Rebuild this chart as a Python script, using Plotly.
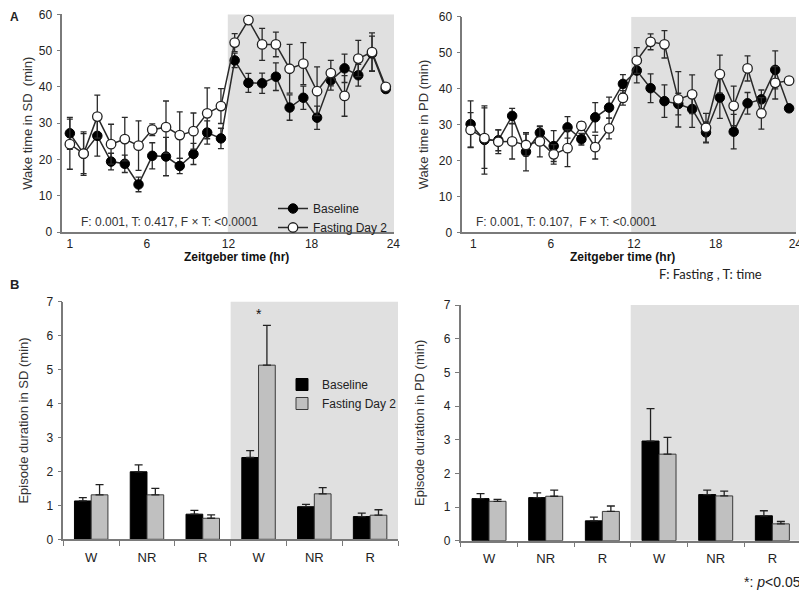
import plotly.graph_objects as go

FONT = "Liberation Sans, Arial, sans-serif"

# ---------------- data ----------------
zt = list(range(1, 25))
zt_ticks_sd = [1, 6.6, 12.55, 18.6, 24.55]
zt_ticks_pd = [1.2, 6.8, 12.8, 18.7, 24.45]
zt_ticktext = ["1", "6", "12", "18", "24"]

sd_base = [27.2, 21.6, 26.5, 19.4, 18.8, 13.1, 21.0, 20.8, 18.2, 21.5, 27.4, 25.8,
           47.3, 41.1, 41.0, 42.8, 34.3, 37.0, 31.5, 41.8, 45.1, 43.2, 49.2, 39.4]
sd_base_err = [4.4, 5.5, 5.6, 2.3, 2.4, 2.0, 3.6, 5.3, 2.1, 2.9, 3.2, 2.8,
               2.0, 2.6, 2.8, 3.8, 3.5, 3.2, 3.2, 2.7, 3.9, 3.0, 4.8, 0.5]
sd_fast = [24.2, 21.6, 31.8, 24.2, 25.6, 23.8, 28.2, 28.9, 26.7, 27.8, 32.7, 34.7,
           52.2, 58.4, 51.7, 51.7, 45.0, 46.4, 38.8, 43.8, 37.5, 47.8, 49.6, 40.0]
sd_fast_err = [6.9, 6.0, 5.9, 5.5, 6.0, 6.8, 1.6, 7.2, 6.4, 5.0, 7.0, 4.8,
               2.5, 0.5, 4.4, 3.4, 6.7, 5.8, 6.7, 3.5, 5.6, 5.0, 5.3, 0.5]

pd_base = [30.1, 25.7, 25.6, 32.4, 22.4, 27.7, 24.0, 29.2, 25.9, 32.0, 34.7, 41.3,
           45.0, 40.1, 36.5, 35.7, 34.3, 27.8, 37.5, 28.0, 35.9, 37.0, 45.2, 34.5]
pd_base_err = [6.5, 9.5, 2.9, 2.1, 5.3, 1.7, 4.3, 3.0, 1.6, 4.1, 2.9, 2.6,
               3.4, 4.0, 4.5, 3.0, 5.1, 2.9, 5.8, 4.8, 3.0, 2.6, 5.3, 0.5]
pd_fast = [28.5, 26.2, 25.2, 25.3, 24.3, 25.3, 21.7, 23.4, 29.6, 23.7, 28.9, 37.4,
           47.8, 53.0, 52.3, 37.0, 38.4, 29.1, 44.0, 35.2, 45.6, 33.1, 41.6, 42.2]
pd_fast_err = [4.8, 8.4, 3.3, 4.9, 3.0, 4.3, 2.7, 5.1, 1.2, 3.3, 2.9, 2.0,
               3.6, 2.2, 3.8, 7.7, 5.4, 4.0, 5.3, 5.5, 3.5, 4.4, 4.5, 0.5]

stages = ["W", "NR", "R", "W", "NR", "R"]
stage_pos = [0, 1, 2, 3, 4, 5]

sd_bar_base = [1.13, 1.99, 0.74, 2.41, 0.96, 0.67]
sd_bar_base_err = [0.10, 0.20, 0.11, 0.20, 0.07, 0.10]
sd_bar_fast = [1.31, 1.31, 0.62, 5.13, 1.34, 0.71]
sd_bar_fast_err = [0.30, 0.19, 0.10, 1.17, 0.18, 0.16]

pd_bar_base = [1.25, 1.28, 0.59, 2.96, 1.37, 0.74]
pd_bar_base_err = [0.15, 0.14, 0.11, 0.96, 0.13, 0.15]
pd_bar_fast = [1.17, 1.32, 0.87, 2.57, 1.33, 0.50]
pd_bar_fast_err = [0.06, 0.18, 0.16, 0.50, 0.14, 0.07]

LINE_COL = "#2a2a2a"
AXIS_COL = "#7a7a7a"
SHADE = "#e0e0e0"

# page body has an 8px default margin: figure is sized to fit the window
OFF = 8
W, H = 807 - OFF, 590 - OFF


def px_x(a, b):
    return [(a - OFF) / W, (b - OFF) / W]


def px_y(top, bottom):
    return [1 - (bottom - OFF) / H, 1 - (top - OFF) / H]


def sx(a):
    return (a - OFF) / W


def sy(a):
    return 1 - (a - OFF) / H


fig = go.Figure()


def line_traces(xa, ya, base, base_err, fast, fast_err, show):
    fig.add_trace(go.Scatter(
        x=zt, y=base, name="Baseline", mode="lines+markers",
        line=dict(color=LINE_COL, width=1.5),
        marker=dict(symbol="circle", size=9.5, color="#000000",
                    line=dict(color="#000000", width=1)),
        error_y=dict(type="data", array=base_err, color=LINE_COL, thickness=1.3, width=3),
        xaxis=xa, yaxis=ya, showlegend=show, legend="legend"))
    fig.add_trace(go.Scatter(
        x=zt, y=fast, name="Fasting Day 2", mode="lines+markers",
        line=dict(color=LINE_COL, width=1.5),
        marker=dict(symbol="circle", size=9.5, color="#ffffff",
                    line=dict(color="#222222", width=1.3)),
        error_y=dict(type="data", array=fast_err, color=LINE_COL, thickness=1.3, width=3),
        xaxis=xa, yaxis=ya, showlegend=show, legend="legend"))


def bar_traces(xa, ya, base, base_err, fast, fast_err, show):
    zeros = [0] * len(base)
    fig.add_trace(go.Bar(
        x=stage_pos, y=base, name="Baseline",
        marker=dict(color="#000000", line=dict(color="#000000", width=1)),
        error_y=dict(type="data", symmetric=False, array=base_err, arrayminus=zeros,
                     color="#222222", thickness=1.3, width=4),
        xaxis=xa, yaxis=ya, showlegend=show, legend="legend2"))
    fig.add_trace(go.Bar(
        x=stage_pos, y=fast, name="Fasting Day 2",
        marker=dict(color="#c0c0c0", line=dict(color="#3a3a3a", width=1)),
        error_y=dict(type="data", symmetric=False, array=fast_err, arrayminus=zeros,
                     color="#222222", thickness=1.3, width=4),
        xaxis=xa, yaxis=ya, showlegend=show, legend="legend2"))


line_traces("x", "y", sd_base, sd_base_err, sd_fast, sd_fast_err, True)
line_traces("x2", "y2", pd_base, pd_base_err, pd_fast, pd_fast_err, False)
bar_traces("x3", "y3", sd_bar_base, sd_bar_base_err, sd_bar_fast, sd_bar_fast_err, True)
bar_traces("x4", "y4", pd_bar_base, pd_bar_base_err, pd_bar_fast, pd_bar_fast_err, False)

tickfont = dict(family=FONT, size=12, color="#222222")
titlefont = dict(family=FONT, size=13, color="#333333")


def yax(domain, rng, dtick, title, anchor, standoff):
    return dict(domain=domain, range=rng, dtick=dtick, tick0=0, anchor=anchor,
                automargin=False, ticklabeloverflow="allow",
                showline=True, linecolor=AXIS_COL, linewidth=1.5,
                ticks="outside", ticklen=4, tickcolor=AXIS_COL, tickwidth=1,
                showgrid=False, zeroline=False, tickfont=tickfont,
                ticklabelstandoff=2,
                title=dict(text=title, font=titlefont, standoff=standoff))


def xax_line(domain, rng, tickvals, anchor):
    return dict(domain=domain, range=rng, anchor=anchor, tickmode="array",
                automargin=False, ticklabeloverflow="allow",
                tickvals=tickvals, ticktext=zt_ticktext, showline=True,
                linecolor=AXIS_COL, linewidth=1.5, ticks="", showgrid=False,
                zeroline=False, tickfont=tickfont)


def xax_bar(domain, anchor):
    return dict(domain=domain, range=[-0.5, 5.5], anchor=anchor, tickmode="array",
                automargin=False,
                tickvals=stage_pos, ticktext=stages, showline=True,
                linecolor=AXIS_COL, linewidth=1.5, ticks="", showgrid=False,
                zeroline=False, tickfont=dict(family=FONT, size=13, color="#222222"),
                ticklabelstandoff=5,
                minor=dict(tickmode="array",
                           tickvals=[p - 0.5 for p in stage_pos] + [stage_pos[-1] + 0.5],
                           ticks="outside", ticklen=5, tickcolor=AXIS_COL, tickwidth=1))


fig.update_layout(
    width=W, height=H, margin=dict(l=0, r=0, t=0, b=0, autoexpand=False),
    paper_bgcolor="white", plot_bgcolor="white",
    font=dict(family=FONT, color="#222222"),
    barmode="group", bargap=0.4, bargroupgap=0.0,
    xaxis=xax_line(px_x(62.3, 394), [0.45, 24.6], zt_ticks_sd, "y"),
    yaxis=yax(px_y(14.3, 232), [0, 60], 10, "Wake time in SD  (min)", "x", 3),
    xaxis2=xax_line(px_x(462.3, 796), [0.4, 24.5], zt_ticks_pd, "y2"),
    yaxis2=yax(px_y(16.7, 232.3), [0, 60], 10, "Wake time in PD (min)", "x2", 7),
    xaxis3=xax_bar(px_x(63.3, 398), "y3"),
    yaxis3=yax(px_y(301.7, 539.3), [0, 7], 1, "Episode duration in SD (min)", "x3", 15),
    xaxis4=xax_bar(px_x(460.7, 800.7), "y4"),
    yaxis4=yax(px_y(305, 540.7), [0, 7], 1, "Episode duration in PD (min)", "x4", 16),
    legend=dict(x=sx(273), y=sy(194), xanchor="left", yanchor="top",
                bgcolor="rgba(0,0,0,0)", font=dict(family=FONT, size=12, color="#222222"),
                tracegroupgap=0, itemwidth=30),
    legend2=dict(x=sx(282), y=sy(370), xanchor="left", yanchor="top",
                 bgcolor="rgba(0,0,0,0)", font=dict(family=FONT, size=12, color="#222222"),
                 tracegroupgap=0, itemwidth=30),
)

# dark-phase shading
shapes = [
    dict(type="rect", xref="x", yref="y", x0=12.5, x1=24.6, y0=0, y1=60,
         fillcolor=SHADE, line=dict(width=0), layer="below"),
    dict(type="rect", xref="x2", yref="y2", x0=12.6, x1=24.5, y0=0, y1=60,
         fillcolor=SHADE, line=dict(width=0), layer="below"),
    dict(type="rect", xref="x3", yref="y3", x0=2.5, x1=5.5, y0=0, y1=7.05,
         fillcolor=SHADE, line=dict(width=0), layer="below"),
    dict(type="rect", xref="x4", yref="y4", x0=2.5, x1=5.5, y0=0, y1=7.1,
         fillcolor=SHADE, line=dict(width=0), layer="below"),
]
fig.update_layout(shapes=shapes)

ann_font = dict(family=FONT, size=12, color="#333333")
star_y = sd_bar_fast[3] + sd_bar_fast_err[3] + 0.35
annotations = [
    dict(text="F: 0.001, T: 0.417, F × T: <0.0001", x=sx(79), y=sy(222),
         xref="paper", yref="paper", xanchor="left", yanchor="middle",
         showarrow=False, font=ann_font),
    dict(text="F: 0.001, T: 0.107, \u00a0F × T: <0.0001", x=sx(474), y=sy(222),
         xref="paper", yref="paper", xanchor="left", yanchor="middle",
         showarrow=False, font=ann_font),
    dict(text="<b>Zeitgeber time (hr)</b>", x=sx(236), y=sy(257),
         xref="paper", yref="paper", xanchor="center", yanchor="middle",
         showarrow=False, font=dict(family=FONT, size=12, color="#111111")),
    dict(text="<b>Zeitgeber time (hr)</b>", x=sx(622), y=sy(257),
         xref="paper", yref="paper", xanchor="center", yanchor="middle",
         showarrow=False, font=dict(family=FONT, size=12, color="#111111")),
    dict(text="F: Fasting , T: time", x=sx(657), y=sy(274),
         xref="paper", yref="paper", xanchor="left", yanchor="middle",
         showarrow=False, font=dict(family="Lato, Noto Sans, sans-serif", size=13, color="#222222")),
    dict(text="*", x=3, y=star_y, xref="x3", yref="y3", showarrow=False,
         font=dict(family=FONT, size=14, color="#111111")),
    dict(text="*: <i>p</i><0.05", x=sx(742), y=sy(582),
         xref="paper", yref="paper", xanchor="left", yanchor="middle",
         showarrow=False, font=dict(family=FONT, size=14, color="#222222")),
    dict(text="<b>A</b>", x=0, y=1, xref="paper", yref="paper",
         xanchor="left", yanchor="top", showarrow=False,
         font=dict(family=FONT, size=12, color="#222222")),
    dict(text="<b>B</b>", x=0, y=sy(284), xref="paper", yref="paper",
         xanchor="left", yanchor="middle", showarrow=False,
         font=dict(family=FONT, size=13, color="#222222")),
]
fig.update_layout(annotations=annotations)

fig.write_html("out.html")
